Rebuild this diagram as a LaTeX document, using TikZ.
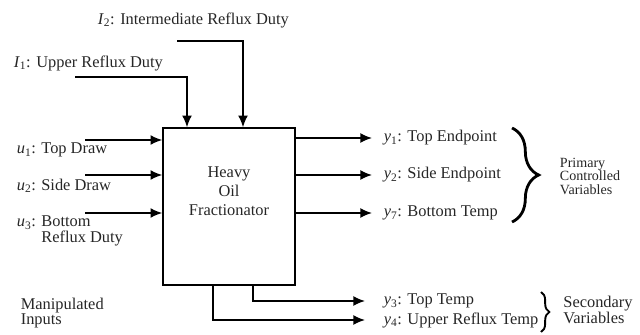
\documentclass[tikz,border=0pt]{standalone}
\usepackage{fontspec}
\setmainfont{Liberation Serif}
\usetikzlibrary{arrows.meta, decorations.pathreplacing, positioning}

\newcommand{\vr}[2]{\textit{#1}\textsubscript{#2}}

\begin{document}
\begin{tikzpicture}[x=0.3mm, y=-0.3mm, line width=1.4pt,
  every node/.style={font=\fontsize{14}{13}\selectfont, inner sep=0pt, text=black!85},
  sig/.style={-{Latex[length=3.5mm, width=3mm]}},
  lbl/.style={anchor=west, align=left},
  grp/.style={align=left, font=\fontsize{12}{11.5}\selectfont},
  brc/.style={decorate, line width=2.4pt}]
  \useasboundingbox (0,0) rectangle (640,335);

  % the plant
  \node[draw, minimum width=39.6mm, minimum height=47.1mm] (frac) at (229,206.5) {};
  \node[align=center, font=\fontsize{14}{16}\selectfont] (fractxt) at (229,191) {Heavy\\Oil\\Fractionator};

  % disturbances from the top
  \node[lbl] (l2) at (97,20) {\vr{I}{2}: Intermediate Reflux Duty};
  \node[lbl] (l1) at (13,63) {\vr{I}{1}: Upper Reflux Duty};
  \coordinate (l2s) at (177,41);
  \coordinate (l1s) at (75,77);
  \coordinate (l2in) at (243,0);
  \coordinate (l1in) at (187,0);
  \draw[sig] (l2s) -| (l2in |- frac.north);
  \draw[sig] (l1s) -| (l1in |- frac.north);

  % manipulated inputs
  \node[lbl] (u1) at (16,150) {\vr{u}{1}: Top Draw};
  \node[lbl] (u2) at (16,186) {\vr{u}{2}: Side Draw};
  \node[lbl] (u3) at (16,231) {\vr{u}{3}: Bottom\\\phantom{\vr{u}{3}: }Reflux Duty};
  \coordinate (u1s) at (85,140);
  \coordinate (u2s) at (85,175);
  \coordinate (u3s) at (85,213);
  \draw[sig] (u1s) -- (u1s -| frac.west);
  \draw[sig] (u2s) -- (u2s -| frac.west);
  \draw[sig] (u3s) -- (u3s -| frac.west);
  \node[lbl] (mi) at (20,313) {Manipulated\\Inputs};

  % primary outputs
  \node[lbl] (y1) at (383,138) {\vr{y}{1}: Top Endpoint};
  \node[lbl] (y2) at (383,175) {\vr{y}{2}: Side Endpoint};
  \node[lbl] (y7) at (383,213) {\vr{y}{7}: Bottom Temp};
  \draw[sig, shorten >=3.3mm] (frac.east |- y1) -- (y1.west);
  \draw[sig, shorten >=3.3mm] (frac.east |- y2) -- (y2.west);
  \draw[sig, shorten >=3.3mm] (frac.east |- y7) -- (y7.west);
  \draw[brc, decoration={brace, amplitude=8mm}] (512,128) -- (512,222);
  \node[grp] (prim) at (590,176) {Primary\\Controlled\\Variables};

  % secondary outputs
  \node[lbl] (y3) at (383,301) {\vr{y}{3}: Top Temp};
  \node[lbl] (y4) at (383,320) {\vr{y}{4}: Upper Reflux Temp};
  \coordinate (y3out) at (253,0);
  \coordinate (y4out) at (213,0);
  \draw[sig, shorten >=5.4mm] (y3out |- frac.south) |- (y3.west);
  \draw[sig, shorten >=5.4mm] (y4out |- frac.south) |- (y4.west);
  \draw[brc, line width=1.6pt, decoration={brace, amplitude=2.5mm}] (541,292) -- (541,332);
  \node[align=left] (sec) at (598,310) {Secondary\\Variables};
\end{tikzpicture}
\end{document}
